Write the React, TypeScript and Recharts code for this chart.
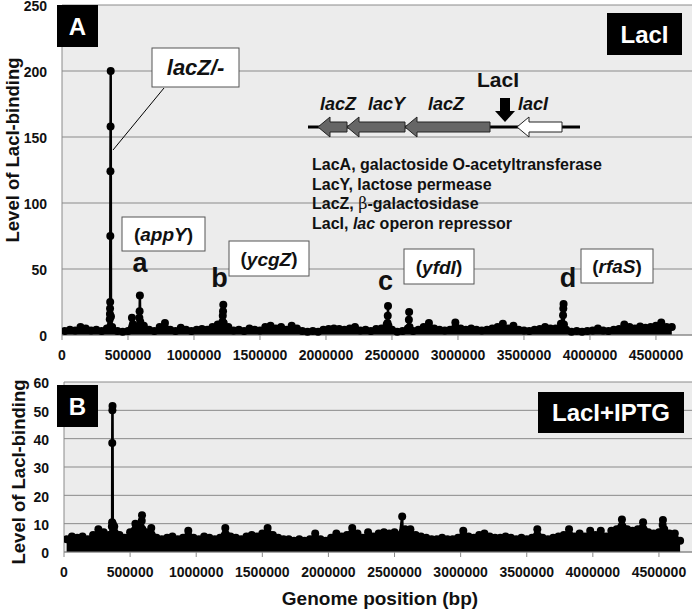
import React from 'react';
import { ComposedChart, Area, XAxis, YAxis, CartesianGrid } from 'recharts';

// genome is read in 40 kb bins; each value is the top of the dense band in that bin
const BIN = 40000;
const xTicks = [0, 500000, 1000000, 1500000, 2000000, 2500000, 3000000, 3500000, 4000000, 4500000];
const yTicksA = [0, 50, 100, 150, 200, 250];
const yTicksB = [0, 10, 20, 30, 40, 50, 60];

const bandA = [
  3, 4, 3.5, 6, 5, 3.5, 4, 3, 5, 6,
  3, 2.5, 3, 8, 6, 7, 4, 3, 6, 9,
  4, 3, 5.5, 4, 3, 4, 4.5, 4, 6, 8,
  9, 6, 3.5, 4, 3, 5, 4, 3.5, 6, 7,
  5, 6, 4, 7, 5, 3, 2.5, 3, 2.5, 4,
  4.5, 5, 4.5, 4, 5, 6, 3.5, 4, 3, 4.5,
  5, 8, 4, 2.5, 3, 5, 3, 4, 6, 9,
  5, 4, 3.5, 4, 9.5, 5, 4, 5, 4, 3.5,
  4, 5, 6, 8.5, 5, 7, 4, 3.5, 3, 4,
  4.5, 6, 5, 5, 8.5, 4, 2.5, 3, 2.5, 3,
  3.5, 5, 3.5, 3, 4, 4.5, 8, 6, 5, 6.5,
  5.5, 6, 7, 9.5, 6, 6,
];

// peaks: [position (bp), level]
const peaksA: [number, number][] = [
  [362000, 12], [363000, 16], [364000, 20], [365000, 25], [366000, 75],
  [367000, 124], [368000, 158], [369000, 200], [371000, 14],
  [530000, 13],
  [586000, 13], [588000, 18], [590000, 30], [593000, 10],
  [1216000, 10], [1218000, 14.5], [1220000, 18], [1222000, 23], [1225000, 9],
  [2466000, 9], [2468000, 14.5], [2470000, 22], [2473000, 7],
  [2628000, 11.5], [2630000, 17.5], [2633000, 6],
  [3796000, 15], [3798000, 20], [3800000, 23.5], [3803000, 8],
];

const bandB = [
  4.5, 5.5, 5, 5.5, 4.5, 6, 8, 7, 6, 9,
  6, 5, 7, 10, 9, 7, 8.5, 5, 4.5, 5,
  5.5, 4.5, 5, 7.5, 5, 4.5, 5.5, 5, 4.5, 5,
  8.5, 5.5, 5, 4.5, 5.5, 6, 5.5, 6.5, 8.5, 6,
  5, 4.5, 4.5, 4, 4.5, 4, 4.5, 6.5, 4.5, 4,
  5, 6.5, 5.5, 6, 8.5, 6.5, 5, 7, 5.5, 6.5,
  7, 6.5, 7, 6, 8, 8, 6, 5.5, 5, 4.5,
  4.5, 5, 4.5, 4.5, 5, 7.5, 5.5, 5, 6, 6.5,
  5.5, 5, 5, 5.5, 5, 4.5, 5, 4.5, 5, 8,
  5, 4.5, 5, 5.5, 6, 8, 5.5, 6.5, 5.5, 7.5,
  6, 7.5, 5.5, 7.5, 8, 11.5, 8, 7.5, 8, 10.5,
  7, 6.5, 7, 8, 6.5, 6.5,
];

const peaksB: [number, number][] = [
  [362000, 9], [364000, 10.5], [365000, 38.5], [366000, 50], [367000, 51.5], [369000, 10],
  [588000, 11], [590000, 13], [593000, 8],
  [2558000, 12.5], [2561000, 7],
  [4528000, 9.5], [4530000, 11.3], [4533000, 7],
  [4660000, 4],
];

const buildSeries = (band: number[], peaks: [number, number][]) =>
  [
    ...band.map((v, i) => ({ pos: i * BIN + BIN / 2, v })),
    ...peaks.map(([pos, v]) => ({ pos, v })),
  ].sort((a, b) => a.pos - b.pos);

const dataA = buildSeries(bandA, peaksA);
const dataB = buildSeries(bandB, peaksB);

const FONT = '"Liberation Sans", Arial, sans-serif';
const tickStyle = { fill: '#111', fontSize: 14, fontWeight: 700, fontFamily: FONT };
const axisGray = '#8a8a8a';

const leftArrow = (x0: number, x1: number, yc: number) =>
  `${x0},${yc} ${x0 + 12},${yc - 10} ${x0 + 12},${yc - 5} ${x1},${yc - 5} ${x1},${yc + 5} ${x0 + 12},${yc + 5} ${x0 + 12},${yc + 10}`;

const Box = ({ x, y, w, h, children }: { x: number; y: number; w: number; h: number; children: React.ReactNode }) => (
  <g>
    <rect x={x} y={y} width={w} height={h} fill="#fff" stroke="#555" strokeWidth={1} />
    <text x={x + w / 2} y={y + h / 2} textAnchor="middle" dominantBaseline="central" fontSize={19} fontWeight={700} fill="#111">
      {children}
    </text>
  </g>
);

const Panel = ({ data, yTicks, yMax, xMax, yWidth, height, margin }: any) => (
  <ComposedChart width={692} height={height} data={data} margin={margin}>
    <CartesianGrid vertical={false} stroke={axisGray} fill="#ececec" />
    <XAxis
      dataKey="pos"
      type="number"
      domain={[0, xMax]}
      allowDataOverflow
      ticks={xTicks}
      interval={0}
      height={30}
      tickSize={5}
      tickMargin={10}
      stroke={axisGray}
      tick={tickStyle}
    />
    <YAxis
      type="number"
      domain={[0, yMax]}
      ticks={yTicks}
      interval={0}
      width={yWidth}
      tickSize={0}
      tickMargin={15}
      stroke={axisGray}
      tick={{ ...tickStyle, dy: 1.5 }}
    />
    <Area
      type="linear"
      dataKey="v"
      stroke="#000"
      strokeWidth={2.5}
      fill="#000"
      fillOpacity={1}
      dot={{ r: 4, fill: '#000', stroke: '#000', strokeWidth: 0 }}
      activeDot={false}
      isAnimationActive={false}
    />
  </ComposedChart>
);

export default function App() {
  return (
    <div style={{ position: 'relative', width: 692, height: 611, fontFamily: FONT, background: '#fff' }}>
      <style>{'body{margin:0}'}</style>
      <div style={{ position: 'absolute', left: 0, top: 0 }}>
        <Panel data={dataA} yTicks={yTicksA} yMax={250} xMax={4773000} yWidth={62} height={365}
          margin={{ top: 5, right: 0, bottom: 0, left: 0 }} />
      </div>
      <div style={{ position: 'absolute', left: 0, top: 365 }}>
        <Panel data={dataB} yTicks={yTicksB} yMax={60} xMax={4750000} yWidth={64} height={246}
          margin={{ top: 17, right: 0, bottom: 29, left: 0 }} />
      </div>

      <svg width={692} height={611} style={{ position: 'absolute', left: 0, top: 0, pointerEvents: 'none' }} fontFamily={FONT}>
        {/* axis titles */}
        <text transform="translate(12,150) rotate(-90)" textAnchor="middle" dominantBaseline="central" fontSize={18.5} fontWeight={700} fill="#111">
          Level of LacI-binding
        </text>
        <text transform="translate(18,472) rotate(-90)" textAnchor="middle" dominantBaseline="central" fontSize={18.5} fontWeight={700} fill="#111">
          Level of LacI-binding
        </text>
        <text x={380} y={605} textAnchor="middle" fontSize={19} fontWeight={700} fill="#111">
          Genome position (bp)
        </text>

        {/* panel A tags */}
        <rect x={57} y={5} width={41} height={42} fill="#000" />
        <text x={77.5} y={26.5} textAnchor="middle" dominantBaseline="central" fontSize={24} fontWeight={700} fill="#fff">A</text>
        <rect x={607} y={13} width={75} height={42} fill="#000" />
        <text x={644.5} y={34} textAnchor="middle" dominantBaseline="central" fontSize={24} fontWeight={700} fill="#fff">LacI</text>

        {/* lacZ/- callout */}
        <line x1={164} y1={88} x2={113} y2={150} stroke="#000" strokeWidth={1} />
        <rect x={152} y={48} width={87} height={39} fill="#fff" stroke="#555" strokeWidth={1} />
        <text x={195.5} y={67.5} textAnchor="middle" dominantBaseline="central" fontSize={22} fontWeight={700} fontStyle="italic" fill="#111">lacZ/-</text>

        {/* lac operon diagram */}
        <text x={498} y={87} textAnchor="middle" fontSize={21} fontWeight={700} fill="#111">LacI</text>
        <g fontSize={18} fontWeight={700} fontStyle="italic" fill="#111">
          <text x={320} y={110}>lacZ</text>
          <text x={368} y={110}>lacY</text>
          <text x={428} y={110}>lacZ</text>
          <text x={518} y={110}>lacI</text>
        </g>
        <rect x={500} y={98} width={10} height={13} fill="#000" />
        <polygon points="495,111 515,111 505,122" fill="#000" />
        <line x1={308} y1={127} x2={580} y2={127} stroke="#000" strokeWidth={3} />
        <polygon points={leftArrow(318, 347, 127)} fill="#666" stroke="#222" strokeWidth={1} />
        <polygon points={leftArrow(347, 405, 127)} fill="#666" stroke="#222" strokeWidth={1} />
        <polygon points={leftArrow(405, 490, 127)} fill="#666" stroke="#222" strokeWidth={1} />
        <polygon points={leftArrow(517, 562, 127)} fill="#fff" stroke="#222" strokeWidth={1} />

        <g fontSize={16} fontWeight={700} fill="#111">
          <text x={312} y={170}>LacA, galactoside O-acetyltransferase</text>
          <text x={312} y={189.5}>LacY, lactose permease</text>
          <text x={312} y={209}>LacZ, <tspan fontFamily="'DejaVu Serif', serif" fontWeight={400}>β</tspan>-galactosidase</text>
          <text x={312} y={228.5}>LacI, <tspan fontStyle="italic">lac</tspan> operon repressor</text>
        </g>

        {/* peak labels */}
        <Box x={122} y={217} w={83} h={34}>(<tspan fontStyle="italic">appY</tspan>)</Box>
        <Box x={229} y={241} w={80} h={35}>(<tspan fontStyle="italic">ycgZ</tspan>)</Box>
        <Box x={404} y={249} w={70} h={35}>(<tspan fontStyle="italic">yfdI</tspan>)</Box>
        <Box x={581} y={249} w={72} h={34}>(<tspan fontStyle="italic">rfaS</tspan>)</Box>
        <g fontSize={27} fontWeight={700} fill="#111" textAnchor="middle">
          <text x={140} y={272}>a</text>
          <text x={219.5} y={287}>b</text>
          <text x={385.5} y={290}>c</text>
          <text x={568} y={287}>d</text>
        </g>

        {/* panel B tags */}
        <rect x={57} y={385} width={41} height={42} fill="#000" />
        <text x={77.5} y={406} textAnchor="middle" dominantBaseline="central" fontSize={24} fontWeight={700} fill="#fff">B</text>
        <rect x={538} y={392} width={146} height={41} fill="#000" />
        <text x={611} y={412.5} textAnchor="middle" dominantBaseline="central" fontSize={24} fontWeight={700} fill="#fff">LacI+IPTG</text>
      </svg>
    </div>
  );
}
